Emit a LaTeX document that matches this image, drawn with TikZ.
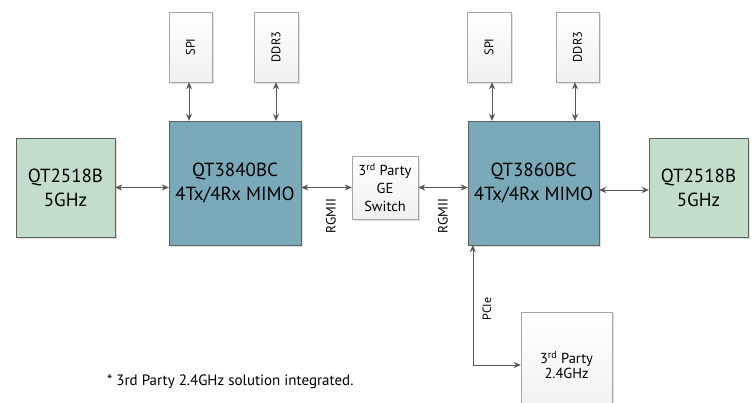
\documentclass[tikz,border=0pt]{standalone}
\usepackage{fontspec}
\setmainfont{PT Sans}
\usepackage{tikz}
\usetikzlibrary{arrows.meta, shadows}
\definecolor{radiogreen}{RGB}{194, 222, 202}
\definecolor{chipteal}{RGB}{122, 170, 186}
\definecolor{boxline}{RGB}{95, 95, 95}
\definecolor{linkgray}{RGB}{85, 85, 85}

\begin{document}
\begin{tikzpicture}[x=1pt, y=-1pt, >={Stealth[length=7pt, width=6pt]},
  soft shadow/.style={drop shadow={shadow xshift=1.5pt, shadow yshift=-1.5pt, opacity=0.25}},
  radio/.style={draw=boxline, fill=radiogreen, soft shadow, minimum width=99pt,
    minimum height=99pt, align=center, font=\fontsize{19}{24}\selectfont},
  chip/.style={draw=boxline, fill=chipteal, soft shadow, minimum width=132pt,
    minimum height=124pt, align=center, font=\fontsize{19}{24}\selectfont},
  mem/.style={draw=gray!70, top color=white, bottom color=gray!12, soft shadow,
    minimum width=43pt, minimum height=70pt, inner sep=0pt, font=\fontsize{12.5}{14}\selectfont},
  third/.style={draw=gray!70, top color=white, bottom color=gray!12, soft shadow,
    align=center, inner sep=0pt, font=\fontsize{14.5}{18}\selectfont},
  link/.style={<->, draw=linkgray, line width=0.6pt},
  lbl/.style={font=\fontsize{13.5}{16}\selectfont, inner sep=0pt}]

  \useasboundingbox (0, 0) rectangle (752, 402);

  % --- Radios ---
  \node[radio] (radioA) at (65.5, 187.5) {QT2518B\\5GHz};
  \node[radio] (radioB) at (698.5, 187.5) {QT2518B\\5GHz};

  % --- Chips ---
  \node[chip] (chipA) at (235, 183) {QT3840BC\\4Tx/4Rx MIMO};
  \node[chip, minimum width=131pt] (chipB) at (533.5, 183) {QT3860BC\\4Tx/4Rx MIMO};

  % --- Memories ---
  \node[mem] (spiA) at (190.5, 47) {\rotatebox{90}{SPI}};
  \node[mem, minimum width=44pt] (ddrA) at (276, 47) {\rotatebox{90}{DDR3}};
  \node[mem, minimum width=44pt] (spiB) at (489, 47) {\rotatebox{90}{SPI}};
  \node[mem] (ddrB) at (577.5, 47) {\rotatebox{90}{DDR3}};

  % --- Third party parts ---
  \node[third, minimum width=66pt, minimum height=63pt] (switch) at (385, 187.5)
    {3\textsuperscript{rd} Party\\GE\\Switch};
  \node[third, font=\fontsize{14.5}{15}\selectfont, minimum width=91pt,
    minimum height=106pt] (wifi) at (566.5, 365) {3\textsuperscript{rd} Party\\2.4GHz};

  % --- Links ---
  \draw[link] (radioA.east) -- (radioA.east -| chipA.west);
  \draw[link] (chipA.east |- switch.west) -- (switch.west);
  \draw[link] (switch.east) -- (switch.east -| chipB.west);
  \draw[link] ([yshift=-2.5pt]chipB.east |- radioB.west) -- ([yshift=-2.5pt]radioB.west);

  \draw[link] ([xshift=-1.5pt]spiA.south) -- ([xshift=-1.5pt]spiA.south |- chipA.north);
  \draw[link] (ddrA.south) -- (ddrA.south |- chipA.north);
  \draw[link] ([xshift=3pt]spiB.south) -- ([xshift=3pt]spiB.south |- chipB.north);
  \draw[link] ([xshift=-2.5pt]ddrB.south) -- ([xshift=-2.5pt]ddrB.south |- chipB.north);

  \draw[link] ([xshift=5pt]chipB.south west) |- (wifi.west);

  % Bus labels
  \node[lbl, rotate=90] (rgmiiA) at (331, 216) {RGMII};
  \node[lbl, rotate=90] (rgmiiB) at (443, 216) {RGMII};
  \node[lbl, rotate=90, font=\fontsize{12}{14}\selectfont] (pcie) at (487, 309) {PCIe};

  % Footnote
  \node[lbl, anchor=west, font=\fontsize{15}{18}\selectfont] (note) at (107, 382)
    {* 3rd Party 2.4GHz solution integrated.};

\end{tikzpicture}
\end{document}
